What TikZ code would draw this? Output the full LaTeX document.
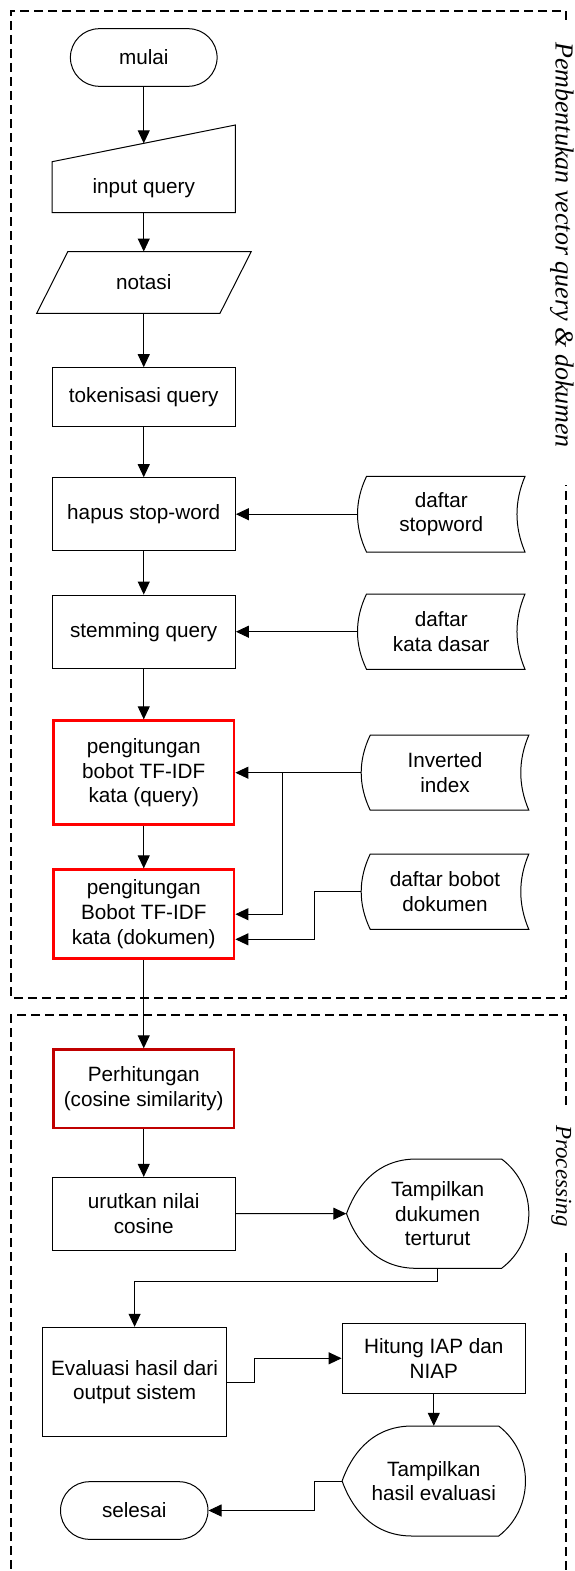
\documentclass[tikz,border=0pt]{standalone}
\usepackage{fontspec}
\setmainfont{Liberation Sans}
\newfontfamily\lblserif{Liberation Serif}
\usetikzlibrary{arrows.meta}
\definecolor{darkred}{HTML}{C00000}
\newcommand\stdata[4]{%
  \draw[shp] ({#1+9},#3) -- (#2,#3)
    .. controls ({#2-10.7},{#3+(#4-#3)/3}) and ({#2-10.7},{#4-(#4-#3)/3}) .. (#2,#4)
    -- ({#1+9},#4)
    .. controls ({#1-3},{#4-(#4-#3)/3}) and ({#1-3},{#3+(#4-#3)/3}) .. ({#1+9},#3) -- cycle;}
\begin{document}
\begin{tikzpicture}[x=1pt,y=-1pt,
  every node/.style={font=\fontsize{20.7}{24.7}\selectfont, align=center, inner sep=0pt},
  shp/.style={draw=black, line width=1pt},
  proc/.style={draw=black, line width=1pt, minimum width=183.3pt},
  redproc/.style={draw=red, line width=2.7pt, minimum width=180.6pt},
  term/.style={draw=black, line width=1pt, rounded corners=28.8pt},
  arr/.style={draw=black, line width=1pt, -{Triangle[length=13pt,width=12pt]}},
  dashbox/.style={draw=black, line width=1.8pt, dash pattern=on 9pt off 5pt},
  lbl/.style={rotate=-90, anchor=base, font=\lblserif\itshape\fontsize{26}{30}\selectfont},
  lblsmall/.style={rotate=-90, anchor=base, font=\lblserif\itshape\fontsize{23}{27}\selectfont}
]
\useasboundingbox (0,0) rectangle (575,1571);

% group frames
\draw[dashbox] (566,20) -- (566,11) -- (11,11) -- (11,998) -- (566,998) -- (566,485);
\draw[dashbox] (566,1105) -- (566,1015) -- (11,1015) -- (11,1580);
\draw[dashbox] (566,1253) -- (566,1580);
\node[lbl] (lab1) at (555.5,245) {Pembentukan vector query \& dokumen};
\node[lblsmall] (lab2) at (556,1176) {Processing};

% start
\node[term, minimum width=146.7pt, minimum height=57.6pt] (mulai) at (143.75,57.5) {mulai};

% manual input
\draw[shp] (52.1,161.7) -- (235.4,125) -- (235.4,212.7) -- (52.1,212.7) -- cycle;
\node (inq) at (143.75,188.3) {input query};
\coordinate (inqtop) at (143.75,143.35);
\coordinate (inqbot) at (143.75,212.7);

% notasi
\draw[shp] (67.8,251.7) -- (251.2,251.7) -- (220,313.3) -- (36.7,313.3) -- cycle;
\node[minimum height=61.6pt] (notasi) at (143.75,282.5) {notasi};

% process boxes
\node[proc, minimum height=59pt] (tok) at (143.75,397.2) {tokenisasi query};
\node[proc, minimum height=73pt] (hapus) at (143.75,514.2) {hapus stop-word};
\node[proc, minimum height=73.3pt] (stem) at (143.75,631.7) {stemming query};
\node[redproc, minimum height=104pt] (red1) at (143.75,772.7) {pengitungan\\bobot TF-IDF\\kata (query)};
\node[redproc, minimum height=89pt] (red2) at (143.75,914.2) {pengitungan\\Bobot TF-IDF\\kata (dokumen)};
\node[draw=darkred, line width=2.5pt, minimum width=180.8pt, minimum height=78.5pt] (perh) at (143.75,1088.8) {Perhitungan\\(cosine similarity)};
\node[proc, minimum height=72.7pt] (urut) at (143.75,1213.7) {urutkan nilai\\cosine};
\node[proc, minimum width=183.4pt, minimum height=109.4pt] (eval) at (134.6,1382) {Evaluasi hasil dari\\output sistem};
\node[proc, minimum width=183.4pt, minimum height=70pt] (hit) at (433.8,1358.3) {Hitung IAP dan\\NIAP};

% stored data
\stdata{357.5}{525}{476.4}{552}
\node[minimum width=167.5pt, minimum height=75.6pt] (sw) at (441.25,514.2) {daftar\\stopword};
\stdata{357.5}{525}{594}{669.3}
\node[minimum width=167.5pt, minimum height=75.3pt] (kd) at (441.25,631.7) {daftar\\kata dasar};
\stdata{361.2}{528.8}{735.2}{810.2}
\node[minimum width=167.6pt, minimum height=75pt] (inv) at (445,772.7) {Inverted\\index};
\stdata{361.2}{528.8}{854}{929.3}
\node[minimum width=167.6pt, minimum height=75.3pt] (bb) at (445,891.7) {daftar bobot\\dokumen};

% display shapes
\draw[shp] (346.5,1213.65) .. controls (354.9,1190.15) and (374.4,1159) .. (416.2,1159)
  -- (501.6,1159) .. controls (537.9,1186.3) and (537.9,1241) .. (501.6,1268.3)
  -- (416.2,1268.3) .. controls (374.4,1268.3) and (354.9,1237.15) .. (346.5,1213.65) -- cycle;
\node[minimum width=182.3pt, minimum height=109.3pt] (disp1) at (437.65,1213.65) {Tampilkan\\dukumen\\terturut};
\draw[shp] (342.1,1481) .. controls (350.5,1457.35) and (370.1,1426) .. (412,1426)
  -- (498.7,1426) .. controls (534.4,1453.5) and (534.4,1508.5) .. (498.7,1536)
  -- (412,1536) .. controls (370.1,1536) and (350.5,1504.65) .. (342.1,1481) -- cycle;
\node[minimum width=183.4pt, minimum height=110pt] (disp2) at (433.8,1481) {Tampilkan\\hasil evaluasi};

% end
\node[term, minimum width=147.5pt, minimum height=57.6pt] (selesai) at (134.25,1510.5) {selesai};

% connectors
\draw[arr] (mulai) -- (inqtop);
\draw[arr] (inqbot) -- (notasi.north);
\draw[arr] (notasi.south) -- (tok.north);
\draw[arr] (tok.south) -- (hapus.north);
\draw[arr] (hapus.south) -- (stem.north);
\draw[arr] (stem.south) -- (red1.north);
\draw[arr] (red1.south) -- (red2.north);
\draw[arr] (red2.south) -- (perh.north);
\draw[arr] (perh.south) -- (urut.north);
\draw[arr] (sw.west) -- (hapus.east);
\draw[arr] (kd.west) -- (stem.east);
\draw[arr] (inv.west) -- (red1.east);
\draw[arr] (inv.west) -- ++(-78.8,0) |- (red2.east);
\draw[arr] (bb.west) -- ++(-46.9,0) |- ([yshift=-25.1pt]red2.east);
\draw[arr] (urut.east) -- (disp1.west);
\draw[arr] (disp1.south) -- ++(0,13.4) -| (eval.north);
\draw[arr] (eval.east) -- ++(27.5,0) |- (hit.west);
\draw[arr] (hit.south) -- (disp2.north);
\draw[arr] (disp2.west) -- ++(-27.8,0) |- (selesai.east);
\end{tikzpicture}
\end{document}
